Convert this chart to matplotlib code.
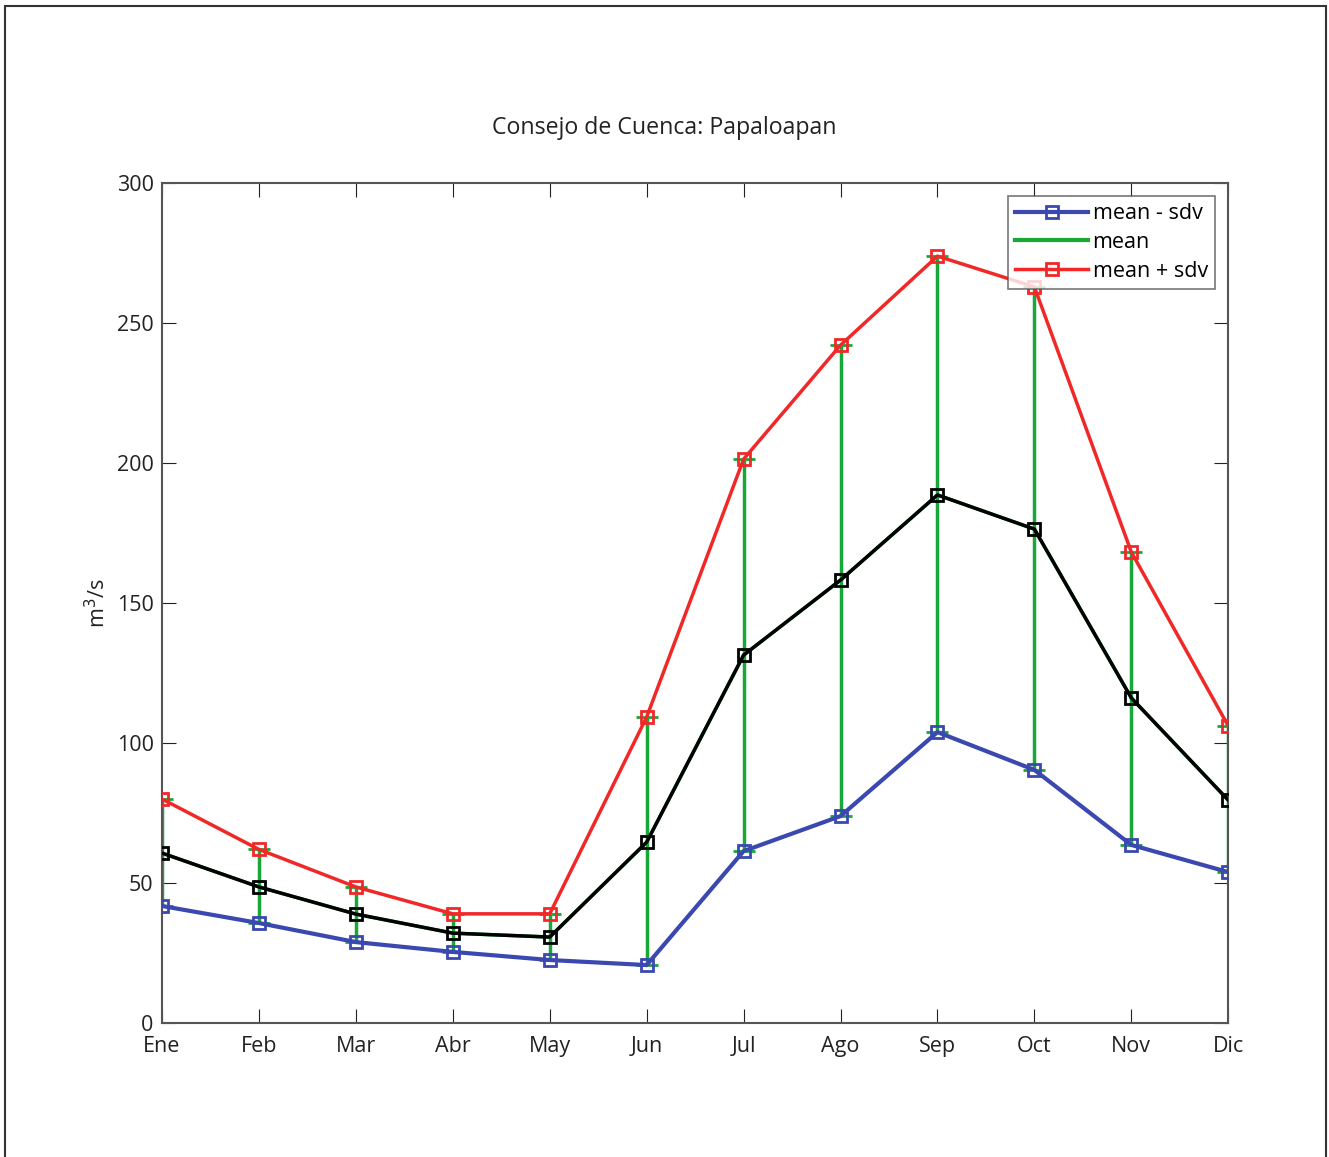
import matplotlib.pyplot as plt
from matplotlib.patches import Rectangle
from matplotlib.lines import Line2D
import numpy as np

months = ["Ene", "Feb", "Mar", "Abr", "May", "Jun", "Jul", "Ago", "Sep", "Oct", "Nov", "Dic"]
mean_plus = [80, 62, 48.6, 39, 39, 109.3, 201.4, 242.1, 273.9, 262.9, 168.2, 106.1]
mean = [60.7, 48.6, 38.9, 32.1, 30.7, 64.6, 131.4, 158.2, 188.6, 176.4, 116.1, 79.6]
mean_minus = [41.8, 35.7, 28.9, 25.4, 22.5, 20.7, 61.4, 73.9, 103.9, 90.4, 63.6, 53.9]

plt.rcParams['font.family'] = ['Open Sans', 'DejaVu Sans']

fig = plt.figure(figsize=(13.29, 11.57), dpi=100)
ax = fig.add_axes([0.1219, 0.1158, 0.8023, 0.726])

x = np.arange(1, len(months) + 1)
lo = np.array(mean) - np.array(mean_minus)
hi = np.array(mean_plus) - np.array(mean)

blue, green, red = '#3a48b0', '#18a838', '#f02828'

ax.plot(x, mean_minus, color=blue, lw=3, marker='s', ms=9, mfc='none',
        mew=2, zorder=3)
ax.errorbar(x, mean, yerr=[lo, hi], color=green, lw=2.5, capsize=8,
            capthick=2, zorder=2)
ax.plot(x, mean_plus, color=red, lw=2.5, marker='s', ms=9, mfc='none',
        mew=2, zorder=3)
ax.plot(x, mean, color='black', lw=2.5, marker='s', ms=9, mfc='none',
        mew=2, zorder=4)

ax.set_xlim(1, 12)
ax.set_ylim(0, 300)
ax.set_xticks(x)
ax.set_xticklabels(months)
ax.set_yticks(range(0, 301, 50))
ax.tick_params(direction='in', length=10, top=True, right=True,
               labelsize=15.5, colors='#222222')
ax.tick_params(axis='x', pad=9)
ax.tick_params(axis='y', pad=6)
for s in ax.spines.values():
    s.set_color('#555555')
    s.set_linewidth(1.5)

# title sits centred on the page, not on the axes
fig.text(0.5, 0.889, "Consejo de Cuenca: Papaloapan", fontsize=16.7,
         color='#222222', ha='center', va='center')
ax.set_ylabel("m$^3$/s", fontsize=15.5, color='#222222', labelpad=5)

handles = [
    Line2D([], [], color=blue, lw=3, marker='s', ms=9, mfc='none', mew=2),
    Line2D([], [], color=green, lw=3),
    Line2D([], [], color=red, lw=2.5, marker='s', ms=9, mfc='none', mew=2),
]
leg = ax.legend(handles, ['mean - sdv', 'mean', 'mean + sdv'], loc='upper right',
                fontsize=15.5, frameon=True, fancybox=False, edgecolor='#555555',
                handlelength=3.4, handletextpad=0.2, borderpad=0.35,
                labelspacing=0.35, borderaxespad=0.6)
leg.get_frame().set_linewidth(1.2)

fig.patches.append(Rectangle((0.004, -0.01), 0.994, 1.005, transform=fig.transFigure,
                             fill=False, edgecolor='#333333', lw=1.5))

fig.savefig("out.png", dpi=100)
